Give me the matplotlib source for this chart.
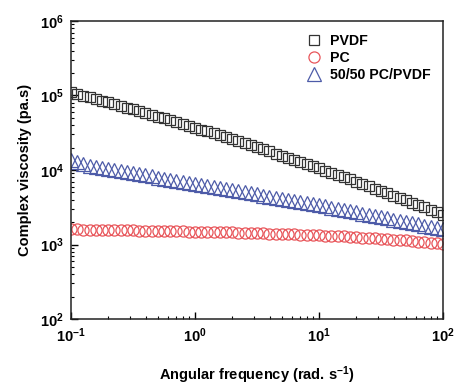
import matplotlib
matplotlib.use("Agg")
import matplotlib.pyplot as plt
from matplotlib.ticker import FixedLocator, LogLocator, NullFormatter

# --- FONT ---
plt.rcParams['font.family'] = ['Liberation Sans', 'DejaVu Sans']
plt.rcParams['font.weight'] = 'bold'
plt.rcParams['mathtext.fontset'] = 'custom'
plt.rcParams['mathtext.rm'] = 'Liberation Sans:bold'
plt.rcParams['mathtext.bf'] = 'Liberation Sans:bold'
plt.rcParams['mathtext.default'] = 'bf'

# --- DATA (angular frequency, rad/s) ---
freq = [0.1, 0.1122, 0.1259, 0.1413, 0.1585, 0.1778, 0.1995, 0.2239, 0.2512, 0.2818,
        0.3162, 0.3548, 0.3981, 0.4467, 0.5012, 0.5623, 0.6310, 0.7079, 0.7943, 0.8913,
        1.0, 1.122, 1.259, 1.413, 1.585, 1.778, 1.995, 2.239, 2.512, 2.818,
        3.162, 3.548, 3.981, 4.467, 5.012, 5.623, 6.310, 7.079, 7.943, 8.913,
        10.0, 11.22, 12.59, 14.13, 15.85, 17.78, 19.95, 22.39, 25.12, 28.18,
        31.62, 35.48, 39.81, 44.67, 50.12, 56.23, 63.10, 70.79, 79.43, 89.13,
        100.0]

# complex viscosity (pa.s)
pvdf = [110000, 104300, 99100, 94200, 89450, 84950, 80600, 76440, 72480, 68690,
        65080, 61620, 58320, 55190, 52190, 49330, 46620, 44030, 41560, 39230,
        36990, 34870, 32870, 30970, 29150, 27440, 25810, 24280, 22830, 21450,
        20150, 18910, 17750, 16640, 15610, 14630, 13700, 12830, 12010, 11230,
        10500, 9820, 9180, 8570, 8000, 7460, 6960, 6490, 6050, 5640,
        5250, 4885, 4545, 4225, 3930, 3650, 3390, 3148, 2920, 2710,
        2510]

pc = [1600, 1594, 1589, 1583, 1578, 1572, 1567, 1561, 1556, 1550,
      1545, 1540, 1534, 1529, 1523, 1517, 1512, 1506, 1500, 1494,
      1488, 1482, 1476, 1470, 1463, 1456, 1450, 1443, 1435, 1428,
      1420, 1413, 1404, 1396, 1387, 1378, 1369, 1359, 1349, 1338,
      1328, 1317, 1305, 1293, 1281, 1268, 1254, 1241, 1227, 1212,
      1197, 1181, 1165, 1149, 1132, 1114, 1097, 1078, 1059, 1040,
      1020]

blend = [13430, 12650, 11970, 11380, 11010, 10650, 10310, 9980, 9655, 9345,
         9045, 8750, 8470, 8195, 7930, 7675, 7430, 7185, 6955, 6730,
         6515, 6300, 6100, 5900, 5710, 5525, 5350, 5175, 5010, 4850,
         4690, 4540, 4395, 4250, 4115, 3980, 3855, 3730, 3610, 3490,
         3380, 3255, 3135, 3020, 2910, 2800, 2700, 2600, 2505, 2413,
         2325, 2240, 2157, 2077, 2001, 1928, 1857, 1788, 1723, 1660,
         1599]

labels = ["PVDF", "PC", "50/50 PC/PVDF"]

# --- PLOT ---
fig = plt.figure(figsize=(4.57, 3.85), dpi=100)
ax = fig.add_axes([0.1554, 0.1714, 0.814, 0.7741])

ax.plot(freq, pvdf, linestyle='none', marker='s', ms=7.3, mfc='none',
        mec='#333333', mew=0.9, label=labels[0])
ax.plot(freq, pc, linestyle='none', marker='o', ms=8, mfc='none',
        mec='#e8555a', mew=0.9, label=labels[1])
ax.plot(freq, blend, linestyle='none', marker='^', ms=9.5, mfc='none',
        mec='#4d5ba8', mew=0.9, label=labels[2])

ax.set_xscale('log')
ax.set_yscale('log')
ax.set_xlim(0.1, 100)
ax.set_ylim(1e2, 1e6)

ax.xaxis.set_major_locator(FixedLocator([0.1, 1, 10, 100]))
ax.yaxis.set_major_locator(FixedLocator([1e2, 1e3, 1e4, 1e5, 1e6]))
ax.xaxis.set_minor_locator(LogLocator(base=10, subs=range(2, 10)))
ax.yaxis.set_minor_locator(LogLocator(base=10, subs=range(2, 10)))
ax.xaxis.set_minor_formatter(NullFormatter())
ax.yaxis.set_minor_formatter(NullFormatter())
ax.set_xticklabels([r'$10^{-1}$', r'$10^{0}$', r'$10^{1}$', r'$10^{2}$'])
ax.set_yticklabels([r'$10^{2}$', r'$10^{3}$', r'$10^{4}$', r'$10^{5}$', r'$10^{6}$'])

ax.tick_params(which='major', direction='in', length=5, width=1, labelsize=10.5, pad=5)
ax.tick_params(which='minor', direction='in', length=2.5, width=0.8)
ax.tick_params(top=False, right=False)

for sp in ax.spines.values():
    sp.set_linewidth(1.1)
    sp.set_color('#222222')

ax.set_xlabel(r'Angular frequency (rad. s$^{-1}$)', fontsize=10.5, fontweight='bold', labelpad=14)
ax.set_ylabel('Complex viscosity (pa.s)', fontsize=10.5, fontweight='bold', labelpad=6)

# legend top right, no frame
ax.legend(loc='upper right', bbox_to_anchor=(0.995, 0.99), frameon=False, fontsize=10.2,
          handletextpad=0.55, labelspacing=0.2, borderaxespad=0.3, handlelength=1.2)

fig.savefig('out.png', dpi=100)
